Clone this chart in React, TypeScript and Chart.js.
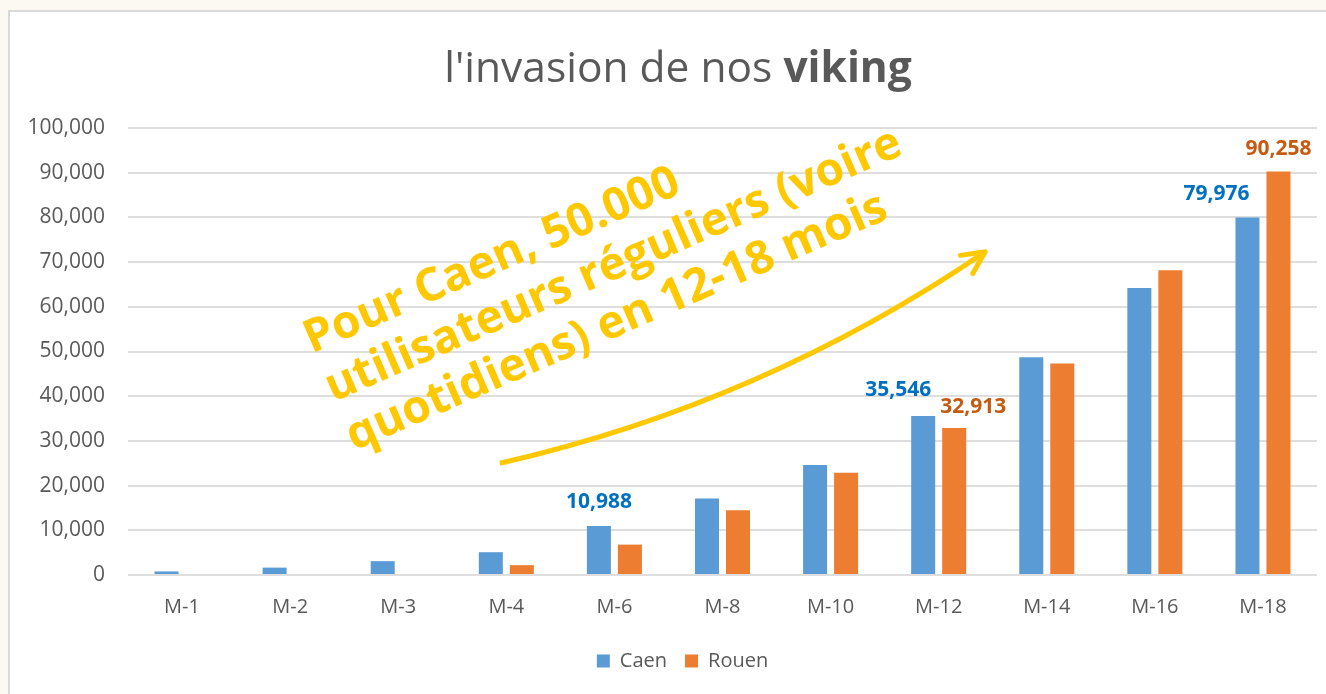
import React, { useEffect, useRef } from 'react';
import { Chart, registerables } from 'chart.js';

Chart.register(...registerables);

// ---------- data ----------
const categories = ['M-1', 'M-2', 'M-3', 'M-4', 'M-6', 'M-8', 'M-10', 'M-12', 'M-14', 'M-16', 'M-18'];
const caenValues = [800, 1650, 3100, 5100, 10988, 17100, 24600, 35546, 48700, 64200, 79976];
const rouenValues = [0, 0, 0, 2200, 6800, 14500, 22900, 32913, 47300, 68200, 90258];
const seriesNames = ['Caen', 'Rouen'];
const yMin = 0;
const yMax = 100000;
const yStep = 10000;
const titleRegular = "l'invasion de nos ";
const titleBold = 'viking';
const noteLines = ['Pour Caen, 50.000', 'utilisateurs réguliers (voire', 'quotidiens) en 12-18 mois'];
// bars that carry a value label: [datasetIndex, categoryIndex]
const labelledBars = [
  [0, 4],
  [0, 7],
  [1, 7],
  [0, 10],
  [1, 10],
];

// ---------- styles ----------
const FONT = "'Open Sans', sans-serif";
const GREY = '#595959';
const barColors = ['#5B9BD5', '#ED7D31'];
const labelColors = ['#0070C0', '#C55A11'];
const NOTE_COLOR = '#FFC800';
const LEGEND_SHIFT = 19;
// label offsets (px) relative to bar top-centre, same order as labelledBars
const labelOffsets = [
  { dx: 0, dy: 24 },
  { dx: -25, dy: 26 },
  { dx: 19, dy: 21 },
  { dx: -31, dy: 23 },
  { dx: 0, dy: 23 },
];
// annotation placement in data space (category index, value)
const arrowStart = { x: 2.94, y: 25000 };
const arrowCtrl = { x: 5.37, y: 38400 };
const arrowEnd = { x: 7.43, y: 72300 };
const noteAnchor = { x: 1.2, y: 49500 };
const NOTE_ANGLE = (-23.5 * Math.PI) / 180;

const overlayPlugin = {
  id: 'overlay',
  afterLayout(chart: any) {
    if (chart.legend) {
      chart.legend.left += LEGEND_SHIFT;
      chart.legend.right += LEGEND_SHIFT;
    }
  },
  beforeDraw(chart: any) {
    const ctx = chart.ctx as CanvasRenderingContext2D;
    ctx.save();
    ctx.fillStyle = GREY;
    ctx.textBaseline = 'alphabetic';
    ctx.font = `42.5px ${FONT}`;
    const w1 = ctx.measureText(titleRegular).width;
    ctx.font = `bold 42.5px ${FONT}`;
    const w2 = ctx.measureText(titleBold).width;
    const x0 = chart.width / 2 - (w1 + w2) / 2;
    ctx.font = `42.5px ${FONT}`;
    ctx.textAlign = 'left';
    ctx.fillText(titleRegular, x0, 70);
    ctx.font = `bold 42.5px ${FONT}`;
    ctx.fillText(titleBold, x0 + w1, 70);
    ctx.restore();
  },
  afterDatasetsDraw(chart: any) {
    const ctx = chart.ctx as CanvasRenderingContext2D;
    const xs = chart.scales.x;
    const ys = chart.scales.y;
    // value labels
    labelledBars.forEach(([ds, idx], i) => {
      const el = chart.getDatasetMeta(ds).data[idx];
      const v = chart.data.datasets[ds].data[idx] as number;
      const off = labelOffsets[i];
      ctx.save();
      ctx.font = `bold 21px ${FONT}`;
      ctx.fillStyle = labelColors[ds];
      ctx.textAlign = 'center';
      ctx.textBaseline = 'middle';
      ctx.fillText(v.toLocaleString('en-US'), el.x + off.dx, el.y - off.dy);
      ctx.restore();
    });
    // arrow
    const p0 = { x: xs.getPixelForValue(arrowStart.x), y: ys.getPixelForValue(arrowStart.y) };
    const p1 = { x: xs.getPixelForValue(arrowCtrl.x), y: ys.getPixelForValue(arrowCtrl.y) };
    const p2 = { x: xs.getPixelForValue(arrowEnd.x), y: ys.getPixelForValue(arrowEnd.y) };
    ctx.save();
    ctx.strokeStyle = NOTE_COLOR;
    ctx.lineWidth = 5;
    ctx.lineCap = 'butt';
    ctx.beginPath();
    ctx.moveTo(p0.x, p0.y);
    ctx.quadraticCurveTo(p1.x, p1.y, p2.x, p2.y);
    ctx.stroke();
    const ang = Math.atan2(p1.y - p2.y, p1.x - p2.x);
    const head = 25;
    const spread = (26 * Math.PI) / 180;
    ctx.lineCap = 'round';
    ctx.lineJoin = 'round';
    ctx.beginPath();
    ctx.moveTo(p2.x + head * Math.cos(ang + spread), p2.y + head * Math.sin(ang + spread));
    ctx.lineTo(p2.x, p2.y);
    ctx.lineTo(p2.x + head * Math.cos(ang - spread), p2.y + head * Math.sin(ang - spread));
    ctx.stroke();
    ctx.restore();
    // note text
    const ax = xs.getPixelForValue(noteAnchor.x);
    const ay = ys.getPixelForValue(noteAnchor.y);
    ctx.save();
    ctx.translate(ax, ay);
    ctx.rotate(NOTE_ANGLE);
    ctx.font = `bold 46px ${FONT}`;
    ctx.fillStyle = NOTE_COLOR;
    ctx.textAlign = 'left';
    ctx.textBaseline = 'alphabetic';
    noteLines.forEach((line, i) => {
      ctx.fillText(line, 0, i * 53);
    });
    ctx.restore();
  },
};

export default function App() {
  const canvasRef = useRef<HTMLCanvasElement | null>(null);

  useEffect(() => {
    const canvas = canvasRef.current;
    if (!canvas) return;
    const chart = new Chart(canvas, {
      type: 'bar',
      data: {
        labels: categories,
        datasets: [
          {
            label: seriesNames[0],
            data: caenValues,
            backgroundColor: barColors[0],
            borderWidth: 0,
            categoryPercentage: 0.574,
            barPercentage: 0.774,
          },
          {
            label: seriesNames[1],
            data: rouenValues,
            backgroundColor: barColors[1],
            borderWidth: 0,
            categoryPercentage: 0.574,
            barPercentage: 0.774,
          },
        ],
      },
      options: {
        responsive: false,
        animation: false,
        devicePixelRatio: 1,
        layout: { padding: { left: 0, right: 29, top: 116, bottom: 13 } },
        plugins: {
          title: { display: false },
          tooltip: { enabled: false },
          legend: {
            position: 'bottom',
            labels: {
              boxWidth: 13,
              boxHeight: 13,
              padding: 18,
              color: GREY,
              font: { family: FONT, size: 20 },
            },
          },
        },
        scales: {
          x: {
            grid: { display: false, drawTicks: false },
            border: { display: false },
            ticks: {
              color: GREY,
              font: { family: FONT, size: 20 },
              padding: 20,
              maxRotation: 0,
              autoSkip: false,
            },
            afterFit: (s: any) => {
              s.height = 58;
            },
          },
          y: {
            min: yMin,
            max: yMax,
            grid: { color: '#dedede', lineWidth: 2, drawTicks: false },
            border: { display: false },
            ticks: {
              stepSize: yStep,
              color: GREY,
              font: { family: FONT, size: 21 },
              padding: 23,
              callback: (v: any) => Number(v).toLocaleString('en-US'),
            },
            afterFit: (s: any) => {
              s.width = 118;
            },
          },
        },
      },
      plugins: [overlayPlugin],
    });
    return () => chart.destroy();
  }, []);

  return (
    <div
      style={{
        position: 'fixed',
        left: 0,
        top: 0,
        width: 1326,
        height: 694,
        background: '#FCF8F2',
        overflow: 'hidden',
      }}
    >
      <div
        style={{
          position: 'absolute',
          left: 8,
          top: 10,
          width: 1400,
          height: 800,
          background: '#ffffff',
          borderLeft: '2px solid #d9d9d9',
          borderTop: '2px solid #d9d9d9',
        }}
      >
        <canvas ref={canvasRef} width={1336} height={682} style={{ display: 'block', width: 1336, height: 682 }} />
      </div>
    </div>
  );
}
